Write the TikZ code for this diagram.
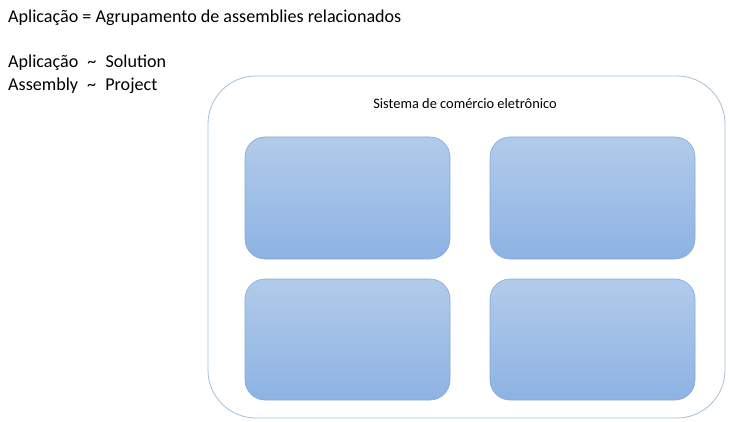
\documentclass[tikz,border=0pt]{standalone}
\usepackage{fontspec}
\setmainfont{Carlito}
\newcommand{\tld}{\hspace{5pt}\char"007E\hspace{5pt}}
\begin{document}
\begin{tikzpicture}[x=1pt,y=-1pt,
  outerbox/.style={draw=outerc, line width=0.8pt, rounded corners=48pt},
  innerbox/.style={draw=innerc, line width=0.6pt, rounded corners=20pt, top color=topc, bottom color=botc},
  lbl/.style={anchor=base west, inner sep=0pt, font=\fontsize{18.1}{21}\selectfont}]
\definecolor{outerc}{HTML}{A3BFD9}
\definecolor{innerc}{HTML}{86A9D9}
\definecolor{topc}{HTML}{B1CBEA}
\definecolor{botc}{HTML}{8DB3E3}
\useasboundingbox (0,0) rectangle (730,422);
\fill[white] (0,0) rectangle (730,422);
\node[lbl] (t1) at (8,23) {Aplicação = Agrupamento de assemblies relacionados};
\node[lbl] (t2) at (8,68) {Aplicação \tld{} Solution};
\node[lbl] (t3) at (8,91) {Assembly \tld{} Project};
\draw[outerbox] (208,76) rectangle (725,418);
\node[anchor=base, inner sep=0pt, font=\fontsize{14.4}{16}\selectfont] (title) at (465,109) {Sistema de comércio eletrônico};
\draw[innerbox] (245,137) rectangle (450,259);
\draw[innerbox] (490,137) rectangle (695,259);
\draw[innerbox] (245,279) rectangle (450,400);
\draw[innerbox] (490,279) rectangle (695,400);
\end{tikzpicture}
\end{document}
